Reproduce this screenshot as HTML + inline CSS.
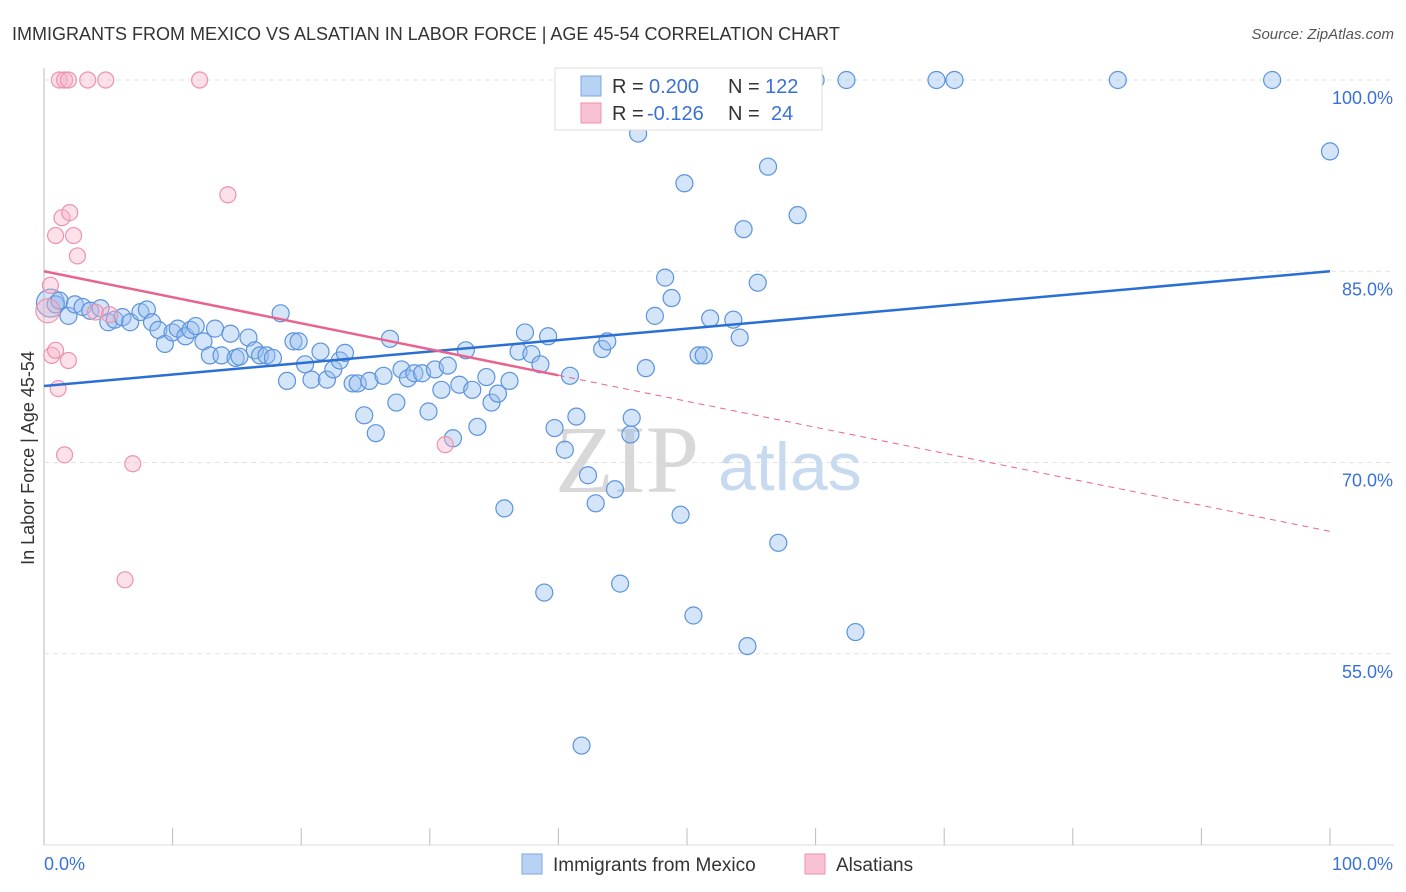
<!DOCTYPE html>
<html><head><meta charset="utf-8"><style>
body{margin:0;background:#fff;font-family:"Liberation Sans",sans-serif}
svg{display:block}
</style></head><body>
<svg id="chart" width="1406" height="892">
<text x="12" y="40" font-size="18" fill="#333">IMMIGRANTS FROM MEXICO VS ALSATIAN IN LABOR FORCE | AGE 45-54 CORRELATION CHART</text>
<text x="1394" y="39" font-size="15" fill="#555" font-style="italic" text-anchor="end">Source: ZipAtlas.com</text>
<text transform="translate(34,458) rotate(-90)" font-size="18" fill="#333" text-anchor="middle">In Labor Force | Age 45-54</text>
<g id="grid"></g>
<text x="555" y="492" font-size="96" fill="#d8d8d8" font-family="Liberation Serif,serif">ZIP</text>
<text x="718" y="490" font-size="68" fill="#c8daf0">atlas</text>
<g id="pts"></g>
<g id="lines"></g>
<g>
<rect x="555" y="68" width="267" height="62" fill="#fff" stroke="#ddd"/>
<rect x="581" y="76" width="20" height="20" fill="#b8d2f4" stroke="#7aa6e0"/>
<rect x="581" y="103" width="20" height="20" fill="#f8c2d2" stroke="#ee92ae"/>
<text x="612" y="93" font-size="20" fill="#333">R =</text>
<text x="649" y="93" font-size="20" fill="#3a72d4">0.200</text>
<text x="728" y="93" font-size="20" fill="#333">N =</text>
<text x="765" y="93" font-size="20" fill="#3a72d4">122</text>
<text x="612" y="120" font-size="20" fill="#333">R =</text>
<text x="647" y="120" font-size="20" fill="#3a72d4">-0.126</text>
<text x="728" y="120" font-size="20" fill="#333">N =</text>
<text x="771" y="120" font-size="20" fill="#3a72d4">24</text>
</g>
<g>
<rect x="522" y="854" width="20" height="20" fill="#b8d2f4" stroke="#7aa6e0"/>
<text x="553" y="871" font-size="19" fill="#333">Immigrants from Mexico</text>
<rect x="805" y="854" width="20" height="20" fill="#f8c2d2" stroke="#ee92ae"/>
<text x="836" y="871" font-size="19" fill="#333">Alsatians</text>
</g>
</svg>
<script>
const xTickLabels=["0.0%","100.0%"];
const yTicks=[100,85,70,55];
const blueX=[0.5,0.9,1.2,1.9,2.4,3.0,3.6,4.4,5.0,5.5,6.1,6.7,7.5,8.0,8.4,8.9,9.4,10.0,10.4,11.0,11.4,11.8,12.4,12.9,13.3,13.8,14.5,14.9,15.2,15.9,16.4,16.8,17.3,17.8,18.4,18.9,19.4,19.8,20.3,20.8,21.5,22.0,22.5,23.0,23.4,24.0,24.4,24.9,25.3,25.8,26.4,26.9,27.4,27.8,28.3,28.8,29.4,29.9,30.4,30.9,31.4,31.8,32.3,32.8,33.3,33.7,34.4,34.8,35.3,35.8,36.2,36.9,37.4,37.9,38.6,38.9,39.2,39.7,40.5,40.9,41.4,41.8,42.3,42.9,43.4,43.8,44.4,44.8,45.6,45.7,46.2,46.8,47.5,47.7,48.3,48.8,49.5,49.8,50.5,50.9,51.3,51.8,52.6,53.6,54.1,54.4,54.7,55.5,56.3,57.1,58.6,59.6,60.0,62.4,63.1,69.4,70.8,83.5,95.5,100];
const blueY=[82.5,82.4,82.7,81.5,82.4,82.2,81.9,82.1,81.0,81.2,81.4,81.0,81.8,82.0,81.0,80.4,79.3,80.2,80.5,79.9,80.4,80.7,79.5,78.4,80.5,78.4,80.1,78.2,78.3,79.8,78.8,78.4,78.4,78.2,81.7,76.4,79.5,79.5,77.7,76.5,78.7,76.5,77.3,78.0,78.6,76.2,76.2,73.7,76.4,72.3,76.8,79.7,74.7,77.3,76.6,77.0,77.0,74.0,77.3,75.7,77.6,71.9,76.1,78.8,75.7,72.8,76.7,74.7,75.4,66.4,76.4,78.7,80.2,78.5,77.7,59.8,79.9,72.7,71.0,76.8,73.6,47.8,69.0,66.8,78.9,79.5,67.9,60.5,72.2,73.5,95.8,77.4,81.5,100,84.5,82.9,65.9,91.9,58.0,78.4,78.4,81.3,100,81.2,79.8,88.3,55.6,84.1,93.2,63.7,89.4,100,100,100,56.7,100,100,100,100,94.4];
const pinkX=[0.3,0.5,0.9,0.6,0.9,1.1,1.2,1.4,1.6,1.9,1.9,1.6,2.0,2.3,2.6,3.4,4.0,4.8,5.1,6.3,6.9,12.1,14.3,31.2];
const pinkY=[81.9,83.9,87.8,78.4,78.8,75.8,100,89.2,100,100,78.0,70.6,89.6,87.8,86.2,100,81.8,100,81.6,60.8,69.9,100,91.0,71.4];
const blueTrend=[76.0,85.0];
const pinkTrend=[85.0,64.6];
const X0=44,X1=1330;
const xs=v=>X0+(X1-X0)*v/100;
const ys=v=>80+(100-v)*12.75;
const NS="http://www.w3.org/2000/svg";
function mk(t,a,p){const e=document.createElementNS(NS,t);for(const k in a)e.setAttribute(k,a[k]);p.appendChild(e);return e;}
const g=document.getElementById('grid');
mk('line',{x1:44,y1:68,x2:44,y2:845,stroke:'#bbb'},g);
mk('line',{x1:44,y1:845,x2:1394,y2:845,stroke:'#ddd'},g);
yTicks.forEach(v=>{
 const l=mk('line',{x1:44,y1:ys(v),x2:1394,y2:ys(v),stroke:'#e2e2e2','stroke-dasharray':'5,4'},g);
 
 
 const t=mk('text',{x:1393,y:ys(v)+24,'font-size':18,fill:'#3a72d4','text-anchor':'end'},g);
 t.textContent=v.toFixed(1)+'%';
 
 
});
for(let i=0;i<=10;i++){
 const l=mk('line',{x1:xs(i*10),y1:828,x2:xs(i*10),y2:845,stroke:'#bbb'},g);
 
 
}
const t0=mk('text',{x:44,y:870,'font-size':18,fill:'#3a72d4'},g);t0.textContent=xTickLabels[0];


const t1=mk('text',{x:1393,y:870,'font-size':18,fill:'#3a72d4','text-anchor':'end'},g);t1.textContent=xTickLabels[1];


const P=document.getElementById('pts');
blueX.forEach((x,i)=>{
 const c=mk('circle',{cx:xs(x),cy:ys(blueY[i]),r:i==0?14:8.5,fill:'rgba(150,190,240,0.4)',stroke:'#5b93dc','stroke-width':1.2},P);
 
 
});
pinkX.forEach((x,i)=>{
 const c=mk('circle',{cx:xs(x),cy:ys(pinkY[i]),r:i==0?12:8,fill:'rgba(248,180,200,0.4)',stroke:'#ee92ae','stroke-width':1.2},P);
 
 
});
const L=document.getElementById('lines');
const bl=mk('line',{x1:xs(0),y1:ys(blueTrend[0]),x2:xs(100),y2:ys(blueTrend[1]),stroke:'#2a6fd6','stroke-width':2.5},L);


const pm=pinkTrend[0]+(pinkTrend[1]-pinkTrend[0])*0.4;
const pl=mk('line',{x1:xs(0),y1:ys(pinkTrend[0]),x2:xs(40),y2:ys(pm),stroke:'#e8638e','stroke-width':2.5},L);


const pd=mk('line',{x1:xs(40),y1:ys(pm),x2:xs(100),y2:ys(pinkTrend[1]),stroke:'#e8638e','stroke-width':1,'stroke-dasharray':'6,5'},L);


</script>
</body></html>
